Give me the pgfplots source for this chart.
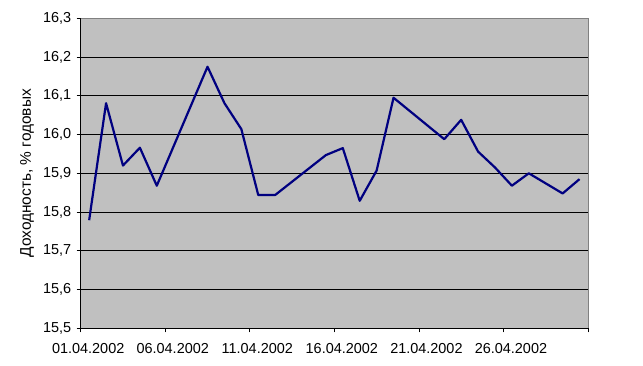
\documentclass[border=0pt]{standalone}
\usepackage{fontspec}
\setmainfont{Liberation Sans}
\usepackage{pgfplots}
\pgfplotsset{compat=1.18}
\definecolor{plotgray}{RGB}{192,192,192}
\definecolor{navyline}{RGB}{0,0,128}
\definecolor{bordergray}{RGB}{128,128,128}
\begin{document}
\begin{tikzpicture}
\useasboundingbox (-80.7bp,-37.7bp) rectangle (562.3bp,328.3bp);
\begin{axis}[
  at={(0,0)}, anchor=south west,
  scale only axis, width=507.3bp, height=310bp,
  xmin=0, xmax=30, ymin=15.5, ymax=16.3,
  axis lines*=left,
  axis line style={black, line width=0.8bp},
  axis background/.style={fill=plotgray},
  xtick={0,5,10,15,20,25,30},
  xticklabels={01.04.2002,06.04.2002,11.04.2002,16.04.2002,21.04.2002,26.04.2002,{}},
  ytick={15.5,15.6,15.7,15.8,15.9,16.0,16.1,16.2,16.3},
  /pgf/number format/.cd, use comma, fixed, fixed zerofill, precision=1, assume math mode=true,
  /pgfplots/.cd,
  ymajorgrids, grid style={black, line width=0.8bp},
  tick align=outside, major tick length=4bp,
  tick style={black, line width=0.8bp},
  ticklabel style={font=\fontsize{14.5}{17}\selectfont},
  xticklabel style={xshift=7.5bp, yshift=-8bp},
  yticklabel style={xshift=-2bp},
  ylabel={Доходность, \% годовых},
  every axis y label/.style={at={(rel axis cs:0,0.5)}, xshift=-53.7bp, rotate=90, anchor=center, font=\fontsize{15.5}{18}\selectfont},
  clip=false,
]
\addplot[navyline, line width=2.2bp, line join=round] coordinates {
(0.5,15.779) (1.5,16.081) (2.5,15.920) (3.5,15.966) (4.5,15.868)
(7.5,16.175) (8.5,16.081) (9.5,16.014) (10.5,15.844) (11.5,15.844)
(14.5,15.947) (15.5,15.965) (16.5,15.829) (17.5,15.907) (18.5,16.095)
(21.5,15.988) (22.5,16.038) (23.5,15.956) (24.5,15.915) (25.5,15.868)
(26.5,15.900) (28.5,15.848) (29.5,15.885)
};
\draw[bordergray, line width=0.8bp] (rel axis cs:0,1) -- (rel axis cs:1,1) -- (rel axis cs:1,0);
\end{axis}
\end{tikzpicture}
\end{document}
